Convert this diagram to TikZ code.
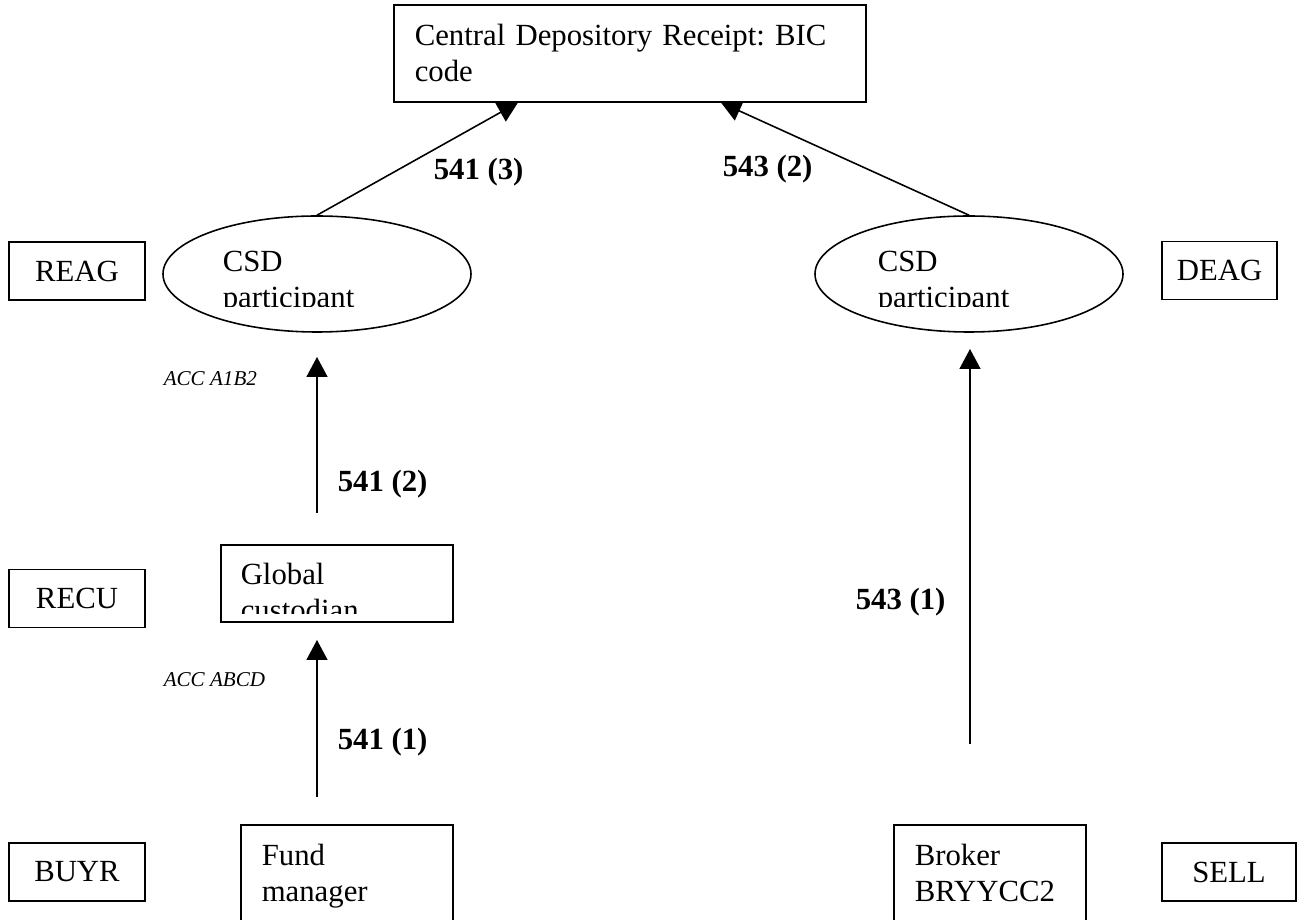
\documentclass[tikz,border=0pt]{standalone}
\usepackage{fontspec}
\setmainfont{Liberation Serif}
\usetikzlibrary{arrows.meta,calc,shapes.geometric}
\newcommand{\diagfont}{\fontsize{17.5pt}{20.4pt}\selectfont}
\frenchspacing

\begin{document}
\begin{tikzpicture}[font=\diagfont, line width=0.9pt, >={Triangle[length=0.4cm,width=0.42cm]},
  tag/.style={draw, minimum height=1.16cm, inner sep=0pt},
  box/.style={draw, anchor=north west, align=left, inner xsep=0.42cm, inner ysep=0pt, text height=0.82cm},
  csd/.style={draw, ellipse, minimum width=6.16cm, minimum height=2.32cm},
  boxtext/.style={anchor=north west, align=left, inner sep=0pt, text width=3.6cm, text height=0.8cm},
  msg/.style={font=\diagfont\bfseries, anchor=base west, inner sep=0pt},
  acc/.style={font=\fontsize{12pt}{14pt}\selectfont\itshape, anchor=base west, inner sep=0pt}]
  \useasboundingbox (0,0) rectangle (25.94,18.38);
  \clip (0,0) rectangle (25.94,18.38);

  \node[box, text width=8.60cm, text depth=1.12cm] (crb) at (7.86,18.30) {Central Depository Receipt: BIC\\code};

  \node[csd] (csdl) at (6.34,12.90) {};
  \node[csd] (csdr) at (19.38,12.90) {};
  \begin{scope}
    \clip ($(csdl.center)+(-3.1,-0.654)$) rectangle ($(csdl.center)+(3.1,1.2)$);
    \node[boxtext] (csdltext) at ($(csdl.center)+(-1.90,0.866)$) {CSD\\participant};
  \end{scope}
  \begin{scope}
    \clip ($(csdr.center)+(-3.1,-0.654)$) rectangle ($(csdr.center)+(3.1,1.2)$);
    \node[boxtext] (csdrtext) at ($(csdr.center)+(-1.84,0.866)$) {CSD\\participant};
  \end{scope}

  \node[box, text width=3.80cm, text depth=0.72cm] (gc) at (4.40,7.50) {};
  \begin{scope}
    \clip ($(gc.south west)+(0,0.18)$) rectangle (gc.north east);
    \node[boxtext] (gctext) at ($(gc.north west)+(0.40,0)$) {Global\\custodian};
  \end{scope}

  \node[box, text width=3.40cm, text depth=1.6cm] (fm) at (4.80,1.90) {Fund\\manager};
  \node[box, text width=3.00cm, text depth=1.6cm] (brk) at (17.86,1.90) {Broker\\BRYYCC2};

  \node[tag, minimum width=2.72cm] (reag) at (1.54,12.96) {REAG};
  \node[tag, minimum width=2.30cm] (deag) at (24.39,12.97) {DEAG};
  \node[tag, minimum width=2.72cm] (recu) at (1.54,6.41) {RECU};
  \node[tag, minimum width=2.72cm] (buyr) at (1.54,0.94) {BUYR};
  \node[tag, minimum width=2.68cm] (sell) at (24.58,0.94) {SELL};

  \node[msg] (m3) at (8.66,14.78) {541 (3)};
  \node[msg] (n2) at (14.44,14.84) {543 (2)};
  \node[msg] (m2) at (6.74,8.54) {541 (2)};
  \node[msg] (n1) at (17.10,6.18) {543 (1)};
  \node[msg] (m1) at (6.74,3.38) {541 (1)};
  \node[acc] (acca) at (3.26,10.66) {ACC A1B2};
  \node[acc] (accb) at (3.26,4.64) {ACC ABCD};

  \coordinate (m1from) at (6.34,2.44);
  \coordinate (m1to) at (6.34,5.58);
  \coordinate (m2from) at (6.34,8.12);
  \coordinate (m2to) at (6.34,11.24);
  \coordinate (n1from) at (19.40,3.50);
  \coordinate (n1to) at (19.40,11.40);
  \draw[->] (m1from) -- (m1to);
  \draw[->] (m2from) -- (m2to);
  \draw[->] (n1from) -- (n1to);
  \draw[->] (csdl.north) -- ([xshift=2.50cm]crb.south west);
  \draw[->] (csdr.north) -- ([xshift=6.56cm]crb.south west);
\end{tikzpicture}
\end{document}
